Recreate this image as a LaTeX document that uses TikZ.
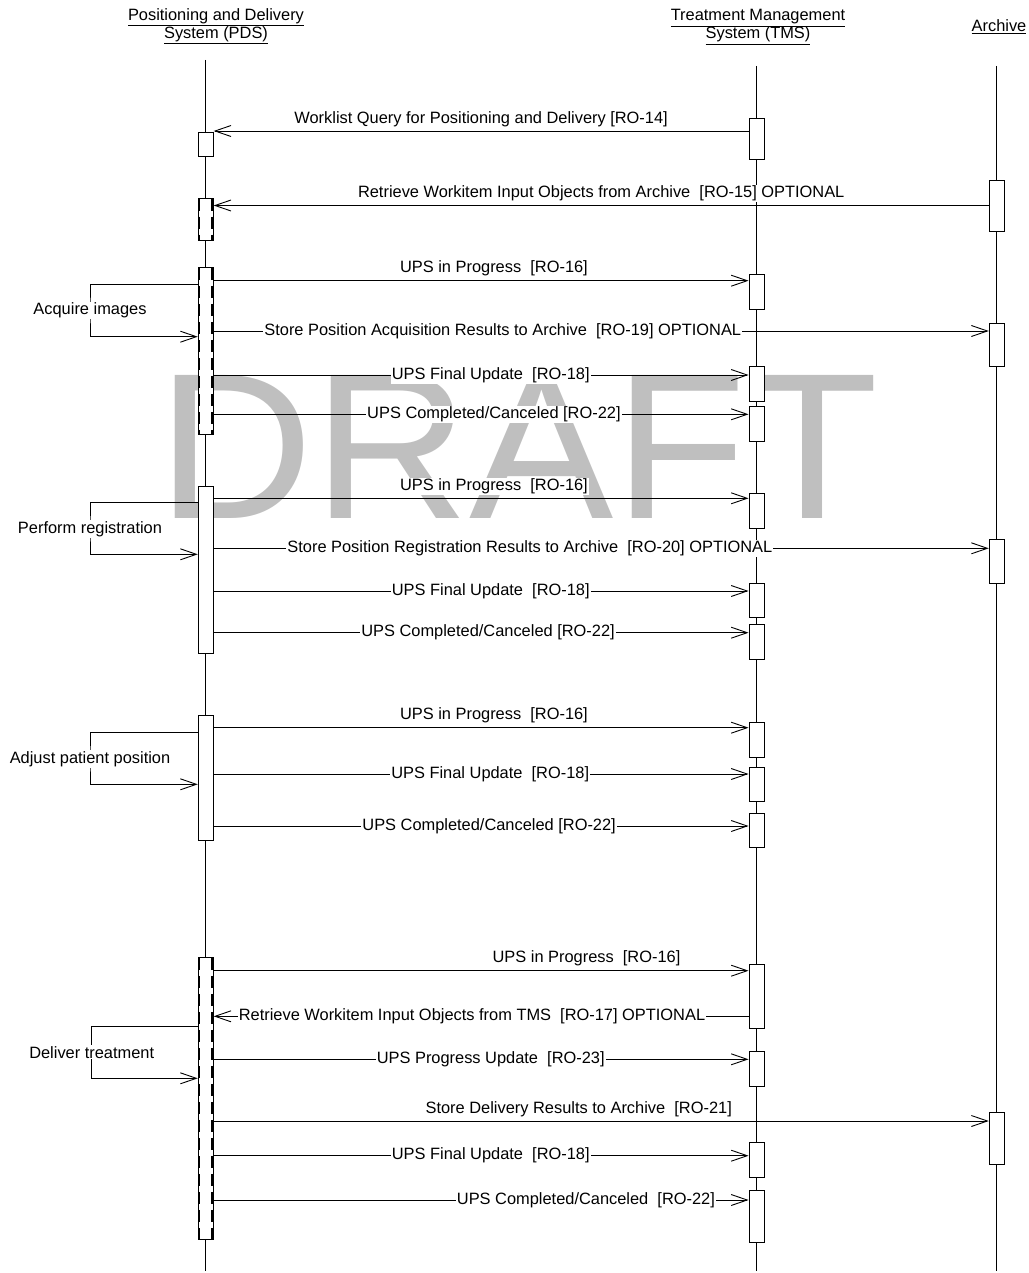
\documentclass[tikz,border=0pt]{standalone}
\usepackage{fontspec}
\setmainfont{Liberation Sans}
\usetikzlibrary{positioning,arrows.meta,calc}
\definecolor{draftgrey}{gray}{0.75}
\tikzset{
  fig/.style={font=\fontsize{16.4}{18}\selectfont},
  act/.style={draw,fill=white,minimum width=15pt,inner sep=0pt,anchor=north,line width=0.9pt},
  actd/.style={act,path picture={
      \draw[line width=1.6pt,dash pattern=on 12pt off 6pt]
        ([xshift=1.4pt]path picture bounding box.north west) -- ([xshift=1.4pt]path picture bounding box.south west)
        ([xshift=-1.4pt]path picture bounding box.north east) -- ([xshift=-1.4pt]path picture bounding box.south east);}},
  life/.style={line width=0.9pt},
  msg/.style={-{Straight Barb[length=16pt,width=11pt]},line width=0.9pt},
  lbl/.style={inner sep=1pt,fill=white},
  head/.style={align=center,inner sep=0pt},
}
\begin{document}
\begin{tikzpicture}[fig,x=1pt,y=-1pt,
  up/.style={lbl,above=3pt}]

\useasboundingbox (0,0) rectangle (1028,1273);

\node[text=draftgrey,font=\fontsize{208}{208}\selectfont,inner sep=0pt] (wm) at (518,447) {\scalebox{1.04}[1]{DRAFT}};

\node[head] (pds) at (216,26) {\underline{Positioning and Delivery}\\\underline{System (PDS)}};
\node[head] (tms) at (758,27) {\underline{Treatment Management}\\\underline{System (TMS)}};
\node[head] (arc) at (999,27) {\underline{Archive}};

\coordinate (pdsTop) at (205.7,60);
\coordinate (pdsEnd) at (205.7,1271);
\coordinate (tmsTop) at (756.5,66);
\coordinate (tmsEnd) at (756.5,1271);
\coordinate (arcTop) at (996.7,66);
\coordinate (arcEnd) at (996.7,1271);
\draw[life] (pdsTop) -- (pdsEnd);
\draw[life] (tmsTop) -- (tmsEnd);
\draw[life] (arcTop) -- (arcEnd);

\node[act,minimum height=24.3pt]  (p1) at (205.7,131.7) {};
\node[actd,minimum height=41.7pt] (p2) at (205.7,198.3) {};
\node[actd,minimum height=166.7pt] (p3) at (205.7,267.3) {};
\node[act,minimum height=166.7pt] (p4) at (205.7,486) {};
\node[act,minimum height=125pt]   (p5) at (205.7,715) {};
\node[actd,minimum height=281.7pt] (p6) at (205.7,957.3) {};

\node[act,minimum height=41pt]   (t1) at (756.5,118.3) {};
\node[act,minimum height=35pt]   (t2) at (756.5,274.3) {};
\node[act,minimum height=34.7pt] (t3) at (756.5,366) {};
\node[act,minimum height=35pt]   (t4) at (756.5,406) {};
\node[act,minimum height=35pt]   (t5) at (756.5,492.7) {};
\node[act,minimum height=34.6pt] (t6) at (756.5,582.7) {};
\node[act,minimum height=34.7pt] (t7) at (756.5,624.3) {};
\node[act,minimum height=34.4pt] (t8) at (756.5,722.3) {};
\node[act,minimum height=34.3pt] (t9) at (756.5,766.7) {};
\node[act,minimum height=34pt]   (t10) at (756.5,812.7) {};
\node[act,minimum height=64pt]   (t11) at (756.5,964.3) {};
\node[act,minimum height=34.7pt] (t12) at (756.5,1051.3) {};
\node[act,minimum height=35pt]   (t13) at (756.5,1141.7) {};
\node[act,minimum height=51.7pt] (t14) at (756.5,1190) {};

\node[act,minimum height=51pt]   (a1) at (996.7,180) {};
\node[act,minimum height=43.3pt] (a2) at (996.7,322.7) {};
\node[act,minimum height=44pt]   (a3) at (996.7,539) {};
\node[act,minimum height=52pt]   (a4) at (996.7,1112) {};

\draw[msg] (t1.west |- 0,131) -- node[up]{Worklist Query for Positioning and Delivery [RO-14]} (p1.east |- 0,131);
\draw[msg] (a1.west |- 0,205.5) -- node[up]{Retrieve Workitem Input Objects from Archive~ [RO-15] OPTIONAL} (p2.east |- 0,205.5);

\draw[msg] (p3.east |- 0,280.7) -- node[up,pos=.524]{UPS in Progress~ [RO-16]} (t2.west |- 0,280.7);
\draw[msg] (p3.east |- 0,331) -- node[lbl,pos=.373]{Store Position Acquisition Results to Archive~ [RO-19] OPTIONAL} (a2.west |- 0,331);
\draw[msg] (p3.east |- 0,375) -- node[lbl,pos=.518]{UPS Final Update~ [RO-18]} (t3.west |- 0,375);
\draw[msg] (p3.east |- 0,414.3) -- node[lbl,pos=.524]{UPS Completed/Canceled [RO-22]} (t4.west |- 0,414.3);
\draw[msg] (p3.west |- 0,284.3) -| node[lbl,pos=1] (acq) {Acquire images} (90,310.5) |- (p3.west |- 0,336.7);

\draw[msg] (p4.east |- 0,498.3) -- node[up,pos=.524]{UPS in Progress~ [RO-16]} (t5.west |- 0,498.3);
\draw[msg] (p4.east |- 0,548.3) -- node[lbl,pos=.408]{Store Position Registration Results to Archive~ [RO-20] OPTIONAL} (a3.west |- 0,548.3);
\draw[msg] (p4.east |- 0,591) -- node[lbl,pos=.518]{UPS Final Update~ [RO-18]} (t6.west |- 0,591);
\draw[msg] (p4.east |- 0,632.7) -- node[lbl,pos=.513]{UPS Completed/Canceled [RO-22]} (t7.west |- 0,632.7);
\draw[msg] (p4.west |- 0,502.7) -| node[lbl,pos=1] (reg) {Perform registration} (90,529) |- (p4.west |- 0,554.3);

\draw[msg] (p5.east |- 0,727.7) -- node[up,pos=.524]{UPS in Progress~ [RO-16]} (t8.west |- 0,727.7);
\draw[msg] (p5.east |- 0,774) -- node[lbl,pos=.517]{UPS Final Update~ [RO-18]} (t9.west |- 0,774);
\draw[msg] (p5.east |- 0,826) -- node[lbl,pos=.515]{UPS Completed/Canceled [RO-22]} (t10.west |- 0,826);
\draw[msg] (p5.west |- 0,732.3) -| node[lbl,pos=1] (adj) {Adjust patient position} (90,759) |- (p5.west |- 0,784.3);

\draw[msg] (p6.east |- 0,970.7) -- node[up,pos=.697]{UPS in Progress~ [RO-16]} (t11.west |- 0,970.7);
\draw[msg] (t11.west |- 0,1016.3) -- node[lbl,pos=.517]{Retrieve Workitem Input Objects from TMS~ [RO-17] OPTIONAL} (p6.east |- 0,1016.3);
\draw[msg] (p6.east |- 0,1059.3) -- node[lbl,pos=.518]{UPS Progress Update~ [RO-23]} (t12.west |- 0,1059.3);
\draw[msg] (p6.east |- 0,1121) -- node[up,pos=.471]{Store Delivery Results to Archive~ [RO-21]} (a4.west |- 0,1121);
\draw[msg] (p6.east |- 0,1155.7) -- node[lbl,pos=.518]{UPS Final Update~ [RO-18]} (t13.west |- 0,1155.7);
\draw[msg] (p6.east |- 0,1200) -- node[lbl,pos=.696]{UPS Completed/Canceled~ [RO-22]} (t14.west |- 0,1200);
\draw[msg] (p6.west |- 0,1026.7) -| node[lbl,pos=1] (dlv) {Deliver treatment} (91.7,1052.3) |- (p6.west |- 0,1078.3);

\end{tikzpicture}
\end{document}
